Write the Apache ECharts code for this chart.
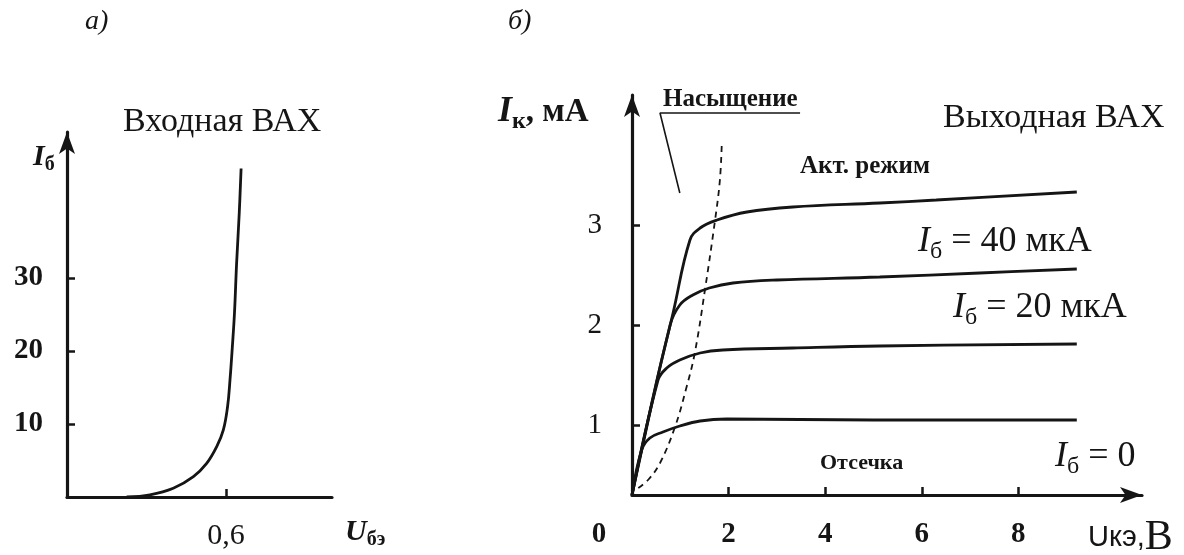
<!DOCTYPE html>
<html>
<head>
<meta charset="utf-8">
<title>ВАХ транзистора</title>
<script src="https://cdn.jsdelivr.net/npm/echarts@6/dist/echarts.min.js"></script>
<style>
  html, body { margin: 0; padding: 0; background: #ffffff; }
  #chart { width: 1184px; height: 555px; }
</style>
</head>
<body>
<div id="chart"></div>
<script>
// Input characteristic: base current Iб (μA) against base–emitter voltage Uбэ (V)
const inputU = [0.225, 0.313, 0.401, 0.477, 0.527, 0.565, 0.590, 0.606, 0.615, 0.624, 0.632, 0.640, 0.650, 0.657];
const inputI = [0.0, 0.3, 1.2, 2.8, 4.6, 6.9, 9.2, 12.4, 16.0, 20.6, 25.2, 32.0, 38.9, 45.0];
const inputTicksX = [0.6];
const inputTickLabelsX = ['0,6'];
const inputTicksY = [10, 20, 30];

// Output characteristics: collector current Iк (mA) against collector–emitter voltage Uкэ (V)
const curveTopU = [0, 0.52, 0.85, 1.20, 1.41, 1.76, 2.38, 3.33, 5.13, 6.30, 9.21];
const curveTopI = [0.30, 1.45, 2.12, 2.85, 2.97, 3.05, 3.13, 3.18, 3.22, 3.25, 3.33];
const curve40U = [0, 0.79, 0.99, 1.26, 1.60, 2.09, 3.00, 5.13, 7.20, 9.21];
const curve40I = [0.30, 2.00, 2.20, 2.30, 2.37, 2.42, 2.45, 2.48, 2.52, 2.56];
const curve20U = [0, 0.54, 0.72, 0.99, 1.41, 1.88, 3.33, 5.13, 9.21];
const curve20I = [0.30, 1.45, 1.57, 1.65, 1.72, 1.75, 1.77, 1.79, 1.81];
const curve0U = [0, 0.20, 0.37, 0.64, 0.99, 1.41, 1.96, 5.00, 9.21];
const curve0I = [0.30, 0.75, 0.87, 0.93, 0.99, 1.04, 1.06, 1.05, 1.05];
// Saturation boundary (dashed)
const boundaryU = [0.13, 0.35, 0.58, 0.89, 1.13, 1.30, 1.51, 1.72, 1.82, 1.86];
const boundaryI = [0.37, 0.46, 0.62, 0.98, 1.38, 1.72, 2.35, 3.05, 3.45, 3.83];
// Leader line of the "Насыщение" caption
const saturationLeaderU = [3.48, 0.58, 0.99];
const saturationLeaderI = [4.12, 4.12, 3.32];
const outputTicksX = [0, 2, 4, 6, 8];
const outputTickLabelsX = ['0', '2', '4', '6', '8'];
const outputTicksY = [1, 2, 3];

const zip = (xs, ys) => xs.map((x, i) => [x, ys[i]]);

const SERIF = '"Liberation Serif", "Times New Roman", serif';
const SANS = '"Liberation Sans", Arial, sans-serif';
const INK = '#151515';

const chart = echarts.init(document.getElementById('chart'), null, { renderer: 'canvas' });

function axisLineStyle(arrow) {
  return {
    show: true,
    symbol: arrow ? ['none', 'arrow'] : 'none',
    symbolSize: [12, 22],
    lineStyle: { color: INK, width: 3.2 }
  };
}
function ticks(values) {
  return { show: true, inside: true, length: 8, customValues: values, lineStyle: { color: INK, width: 2.5 } };
}
function labels(values, margin, fmt, extra) {
  return Object.assign({
    show: true, customValues: values, margin: margin, formatter: fmt,
    fontFamily: SERIF, fontSize: 29, color: INK
  }, extra || {});
}

// rich text helper: italic letter with a lowered subscript, then the rest
function subText(x, y, main, sub, rest, size, opts) {
  opts = opts || {};
  const weight = opts.bold ? 'bold' : 'normal';
  const lh = Math.round(size * 1.2);
  return {
    type: 'text', silent: true,
    style: {
      x: x, y: y, align: 'left', verticalAlign: 'middle',
      text: '{m|' + main + '}{s|' + sub + '}' + (rest ? '{r|' + rest + '}' : ''),
      rich: {
        m: { fontFamily: SERIF, fontStyle: 'italic', fontWeight: weight, fontSize: size, lineHeight: lh, fill: INK },
        s: { fontFamily: SERIF, fontWeight: weight, fontSize: Math.round(size * 0.66), lineHeight: Math.round(size * 0.8), verticalAlign: 'bottom', fill: INK },
        r: { fontFamily: SERIF, fontWeight: opts.restBold ? 'bold' : weight, fontSize: opts.restSize || size, lineHeight: lh, fill: INK }
      }
    }
  };
}
function plainText(x, y, text, size, opts) {
  opts = opts || {};
  return {
    type: 'text', silent: true,
    style: {
      x: x, y: y, align: 'left', verticalAlign: 'middle', text: text,
      fontFamily: opts.family || SERIF, fontSize: size,
      fontWeight: opts.bold ? 'bold' : 'normal', fontStyle: opts.italic ? 'italic' : 'normal', fill: INK
    }
  };
}

const lineSeries = (name, data, xi, extra) => Object.assign({
  name: name, type: 'line', xAxisIndex: xi, yAxisIndex: xi, data: data,
  showSymbol: false, smooth: 0.4, silent: true,
  lineStyle: { color: INK, width: 2.8 }
}, extra || {});

const option = {
  animation: false,
  backgroundColor: '#ffffff',
  grid: [
    { left: 67, top: 132, width: 265, height: 365 },
    { left: 632, top: 95, width: 510, height: 400 }
  ],
  xAxis: [
    {
      gridIndex: 0, type: 'value', min: 0, max: 1.0,
      axisLine: axisLineStyle(false), axisTick: ticks(inputTicksX),
      axisLabel: labels(inputTicksX, 24, v => inputTickLabelsX[inputTicksX.indexOf(v)], { fontSize: 30 }),
      splitLine: { show: false }
    },
    {
      gridIndex: 1, type: 'value', min: 0, max: 10.56,
      axisLine: axisLineStyle(true), axisTick: ticks(outputTicksX.filter(v => v > 0)),
      axisLabel: labels(outputTicksX, 25, v => {
        const t = outputTickLabelsX[outputTicksX.indexOf(v)];
        return v === 0 ? '{z|' + t + '}' : t;
      }, { fontWeight: 'bold', rich: { z: { fontFamily: SERIF, fontSize: 29, fontWeight: 'bold', color: INK, padding: [0, 66, 0, 0] } } }),
      splitLine: { show: false }
    }
  ],
  yAxis: [
    {
      gridIndex: 0, type: 'value', min: 0, max: 50,
      axisLine: axisLineStyle(true), axisTick: ticks(inputTicksY),
      axisLabel: labels(inputTicksY, 24, v => String(v), { fontWeight: 'bold' }),
      splitLine: { show: false }
    },
    {
      gridIndex: 1, type: 'value', min: 0.3, max: 4.3,
      axisLine: axisLineStyle(true), axisTick: ticks(outputTicksY),
      axisLabel: labels(outputTicksY, 30, v => String(v)),
      splitLine: { show: false }
    }
  ],
  series: [
    lineSeries('Входная ВАХ', zip(inputU, inputI), 0),
    lineSeries('Iб верхняя', zip(curveTopU, curveTopI), 1),
    lineSeries('Iб = 40 мкА', zip(curve40U, curve40I), 1),
    lineSeries('Iб = 20 мкА', zip(curve20U, curve20I), 1),
    lineSeries('Iб = 0', zip(curve0U, curve0I), 1),
    lineSeries('Граница насыщения', zip(boundaryU, boundaryI), 1, {
      lineStyle: { color: INK, width: 1.8, type: [6, 5] }
    }),
    lineSeries('Насыщение', zip(saturationLeaderU, saturationLeaderI), 1, {
      smooth: false, lineStyle: { color: INK, width: 1.6 }
    })
  ],
  graphic: [
    plainText(85, 22, 'а)', 28, { italic: true }),
    plainText(508, 22, 'б)', 28, { italic: true }),
    plainText(123, 122, 'Входная ВАХ', 34),
    subText(33, 157, 'I', 'б', '', 30, { bold: true }),
    subText(345, 532, 'U', 'бэ', '', 30, { bold: true }),
    subText(498, 112, 'I', 'к', ', мА', 36, { bold: true, restSize: 33 }),
    plainText(663, 100, 'Насыщение', 25, { bold: true }),
    plainText(943, 118, 'Выходная ВАХ', 34),
    plainText(800, 167, 'Акт. режим', 25, { bold: true }),
    subText(918, 242, 'I', 'б', ' = 40 мкА', 36),
    subText(953, 308, 'I', 'б', ' = 20 мкА', 36),
    subText(1055, 457, 'I', 'б', ' = 0', 36),
    plainText(820, 463, 'Отсечка', 22, { bold: true }),
    {
      type: 'text', silent: true,
      style: {
        x: 1088, y: 538, align: 'left', verticalAlign: 'middle',
        text: '{u|Uкэ,}{b|B}',
        rich: {
          u: { fontFamily: SANS, fontSize: 29, fill: INK },
          b: { fontFamily: SERIF, fontSize: 42, fill: INK }
        }
      }
    }
  ]
};

chart.setOption(option);
</script>
</body>
</html>
